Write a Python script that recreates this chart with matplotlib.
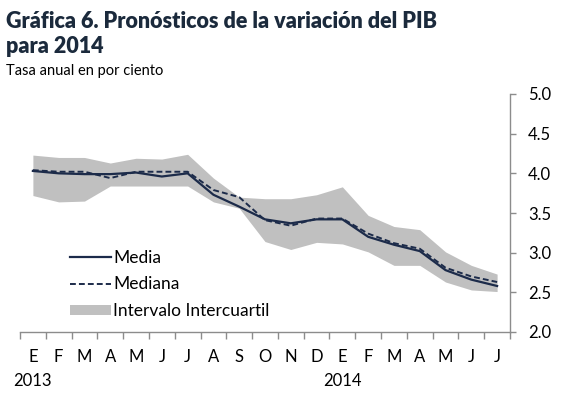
import numpy as np
import matplotlib
matplotlib.use('Agg')
import matplotlib.pyplot as plt
import matplotlib.transforms as mtransforms
from matplotlib.patches import Patch
from matplotlib.lines import Line2D

plt.rcParams['font.family'] = ['Lato', 'DejaVu Sans']

# datos
meses = ['E', 'F', 'M', 'A', 'M', 'J', 'J', 'A', 'S', 'O', 'N', 'D',
         'E', 'F', 'M', 'A', 'M', 'J', 'J']
media = [4.03, 4.00, 3.99, 3.99, 4.01, 3.96, 4.00, 3.73, 3.58, 3.42, 3.37, 3.42,
         3.42, 3.20, 3.10, 3.02, 2.78, 2.66, 2.58]
mediana = [4.04, 4.02, 4.02, 3.94, 4.02, 4.02, 4.02, 3.79, 3.70, 3.41, 3.34, 3.43,
           3.43, 3.24, 3.12, 3.05, 2.81, 2.70, 2.63]
cuartil_sup = [4.23, 4.20, 4.20, 4.13, 4.19, 4.18, 4.24, 3.94, 3.70, 3.68, 3.68, 3.73,
               3.83, 3.47, 3.33, 3.29, 3.01, 2.84, 2.73]
cuartil_inf = [3.72, 3.64, 3.65, 3.84, 3.84, 3.84, 3.84, 3.64, 3.56, 3.14, 3.04, 3.13,
               3.11, 3.01, 2.84, 2.84, 2.63, 2.53, 2.51]
anios = {0: '2013', 12: '2014'}

navy = '#1c2b4a'
gris = '#c0c0c0'
eje = '#8c8c8c'

fig = plt.figure(figsize=(5.7, 4.04), dpi=100)
ax = fig.add_axes([20 / 570, 72 / 404, 490 / 570, 238 / 404])

x = np.arange(len(meses))
ax.fill_between(x, cuartil_inf, cuartil_sup, color=gris, lw=0)
ax.plot(x, media, color=navy, lw=1.6)
ax.plot(x, mediana, color=navy, lw=1.4, ls=(0, (3, 1.6)))

ax.set_xlim(-0.5, len(meses) - 0.5)
ax.set_ylim(2.0, 5.0)

# eje y a la derecha
ax.yaxis.tick_right()
ax.set_yticks(np.arange(2.0, 5.01, 0.5))
ax.set_yticklabels([f'{v:.1f}' for v in np.arange(2.0, 5.01, 0.5)], fontsize=12)
ax.tick_params(axis='y', direction='out', length=4, width=1, color=eje, pad=9)

# ticks de meses
ax.set_xticks(np.arange(-0.5, len(meses)), minor=False)
ax.set_xticklabels([])
ax.set_xticks(x, minor=True)
ax.set_xticklabels(meses, minor=True, fontsize=12)
ax.tick_params(axis='x', which='major', direction='out', length=5, width=1, color=eje)
ax.tick_params(axis='x', which='minor', length=0, pad=12)

for s in ['top', 'left']:
    ax.spines[s].set_visible(False)
for s in ['right', 'bottom']:
    ax.spines[s].set_color(eje)
    ax.spines[s].set_linewidth(1)

trans = mtransforms.blended_transform_factory(ax.transData, fig.transFigure)
for i, a in anios.items():
    fig.text(i, 1 - 381 / 404, a, transform=trans, ha='center', va='center', fontsize=12)

handles = [Line2D([], [], color=navy, lw=1.6),
           Line2D([], [], color=navy, lw=1.4, ls=(0, (3, 1.6))),
           Patch(facecolor=gris, edgecolor='none')]
ax.legend(handles, ['Media', 'Mediana', 'Intervalo Intercuartil'], loc='lower left',
          bbox_to_anchor=(0.07, -0.01), frameon=False, fontsize=12.5, handlelength=2.35,
          handletextpad=0.15, labelspacing=0.6, handleheight=0.5)

fig.text(6 / 570, 1 - 28 / 404, 'Gráfica 6. Pronósticos de la variación del PIB',
         fontsize=15.5, fontweight='heavy', color='#1b2a3c', va='baseline')
fig.text(6 / 570, 1 - 53 / 404, 'para 2014',
         fontsize=15.5, fontweight='heavy', color='#1b2a3c', va='baseline')
fig.text(6 / 570, 1 - 75 / 404, 'Tasa anual en por ciento', fontsize=10.5, va='baseline')

fig.savefig('out.png', dpi=100)
